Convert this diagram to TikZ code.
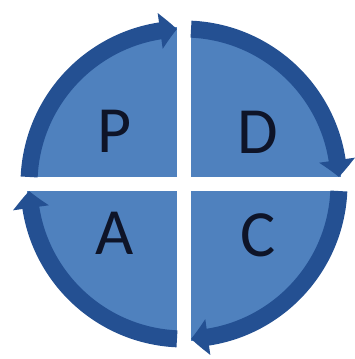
\documentclass[tikz,border=0pt]{standalone}
\usepackage{fontspec}
\setmainfont{Carlito}
\usepackage{xcolor}
\usetikzlibrary{arrows.meta, bending, positioning}
\definecolor{quadblue}{RGB}{79,129,190}
\definecolor{ringblue}{RGB}{36,80,146}
\definecolor{letterink}{RGB}{14,20,40}
\tikzset{
	quadfill/.style={fill=quadblue},
	gapbar/.style={fill=white},
	ringarrow/.style={draw=ringblue, line width=17pt, line cap=butt,
		-{Triangle[length=17pt, width=35pt, bend]}},
	letter/.style={text=letterink, inner sep=0pt, font=\fontsize{66}{66}\selectfont}
}

\begin{document}
\begin{tikzpicture}[x=1pt,y=1pt]
	\useasboundingbox (-184,-175) rectangle (170,184);
	% Quadrants
	\fill[quadfill] (0,0) circle[radius=157];
	\fill[gapbar] (-7,-172) rectangle (7,172);
	\fill[gapbar] (-172,-7) rectangle (172,7);
	
	% Ring arrows (clockwise)
	\foreach \s in {177.4,87.4,-2.6,-92.6}
	\draw[ringarrow] (\s:155) arc[start angle=\s, end angle=\s-84.8, radius=155];
	
	% Letters
	\node[letter] (P) at (-69,53) {P};
	\node[letter] (D) at (74,52) {D};
	\node[letter] (A) at (-69,-49) {A};
	\node[letter] (C) at (74,-51) {C};
\end{tikzpicture}
\end{document}
